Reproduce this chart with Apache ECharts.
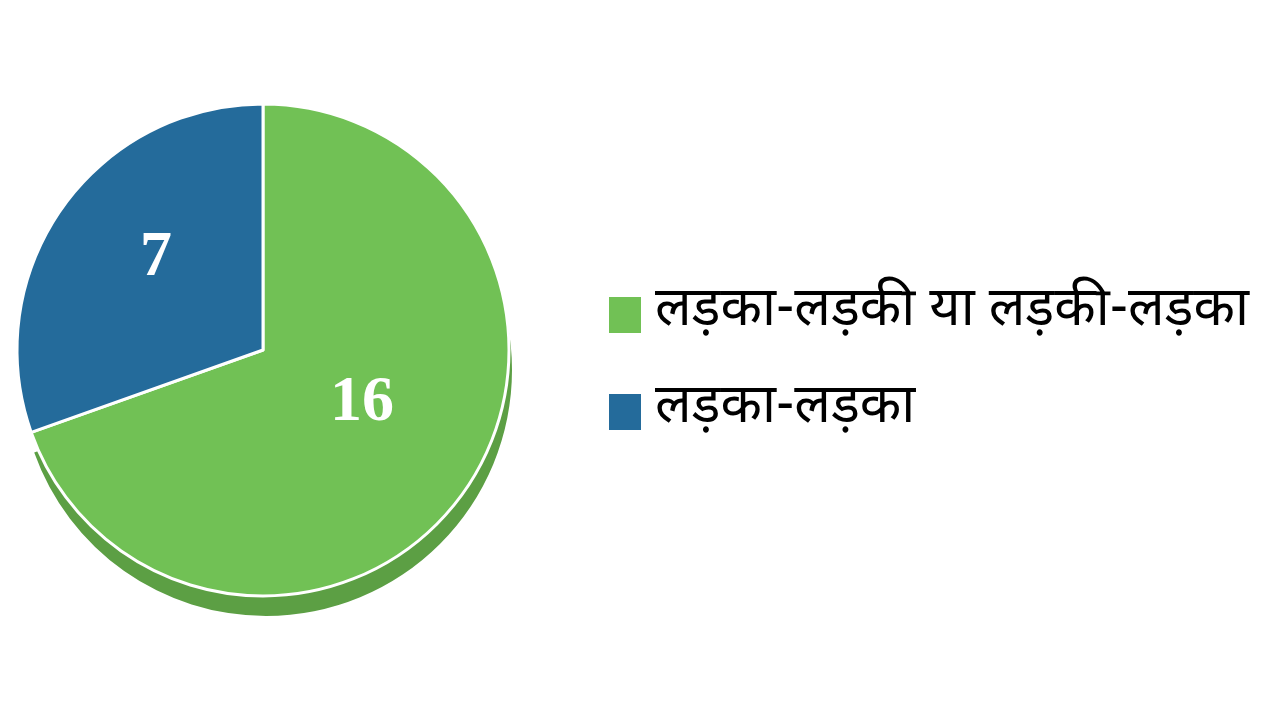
<!DOCTYPE html>
<html>
<head>
<meta charset="utf-8">
<script src="https://cdn.jsdelivr.net/npm/echarts@6/dist/echarts.min.js"></script>
<style>
  html, body { margin: 0; padding: 0; background: #fff; }
  #chart { width: 1280px; height: 720px; }
</style>
</head>
<body>
<div id="chart"></div>
<script>
// data
let categories = ['लड़का-लड़की या लड़की-लड़का', 'लड़का-लड़का'];
let values = [16, 7];
let colors = ['#71c155', '#246b9b'];
let edgeColors = ['#5c9f44', 'rgba(0,0,0,0)'];

let myChart = echarts.init(document.getElementById('chart'));

let pieData = categories.map((name, i) => {
    return {name: name, value: values[i], itemStyle: {color: colors[i]}};
});
let edgeData = categories.map((name, i) => {
    return {name: name + ' ', value: values[i], itemStyle: {color: edgeColors[i]}};
});

myChart.setOption({
    animation: false,
    legend: {
        orient: 'vertical',
        left: 602,
        top: 283,
        itemWidth: 34,
        itemHeight: 38,
        itemGap: 43,
        icon: 'rect',
        data: categories,
        textStyle: {
            fontFamily: '"Noto Sans Devanagari", "Noto Sans", sans-serif',
            fontSize: 54,
            lineHeight: 38,
            color: '#000',
            padding: [0, 0, 0, 8]
        }
    },
    series: [
        {
            // darker copy underneath for the raised edge
            name: 'edge',
            type: 'pie',
            center: [266, 370],
            radius: 246,
            startAngle: 90,
            silent: true,
            label: {show: false},
            labelLine: {show: false},
            data: edgeData
        },
        {
            name: 'pie',
            type: 'pie',
            center: [263, 350],
            radius: 246,
            startAngle: 90,
            itemStyle: {borderColor: '#fff', borderWidth: 3},
            label: {
                show: true,
                position: 'inside',
                formatter: '{c}',
                color: '#fff',
                fontFamily: '"Liberation Serif", "DejaVu Serif", serif',
                fontWeight: 'bold',
                fontSize: 64,
                offset: [-4, -19]
            },
            labelLine: {show: false},
            data: pieData
        }
    ]
});
</script>
</body>
</html>
